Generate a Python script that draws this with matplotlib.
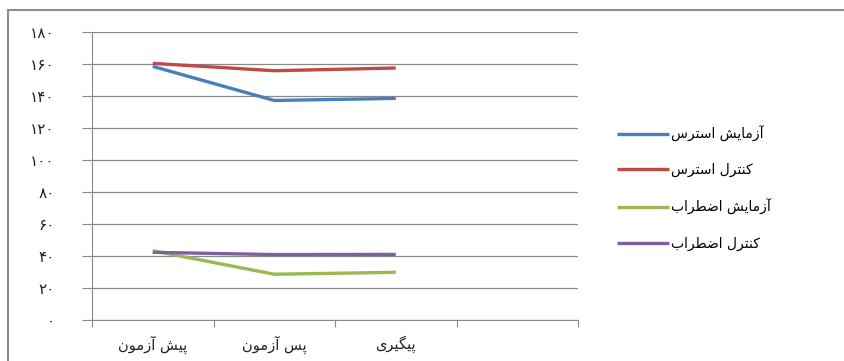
import matplotlib
matplotlib.use("Agg")
import matplotlib.pyplot as plt
from matplotlib.patches import Rectangle

# ---------------- data ----------------
categories = ["پیش آزمون", "پس آزمون", "پیگیری"]
series_names = ["آزمایش استرس", "کنترل استرس", "آزمایش اضطراب", "کنترل اضطراب"]
stress_exp = [158.5, 137.2, 138.5]
stress_ctrl = [160.4, 155.8, 157.5]
anx_exp = [43.3, 28.6, 29.8]
anx_ctrl = [42.3, 40.9, 41.0]
y_ticks = [0, 20, 40, 60, 80, 100, 120, 140, 160, 180]
colors = ["#4A7EBB", "#BE4B48", "#98B954", "#7D60A0"]

# ---------------- simple Persian shaping (presentation forms, visual order) ----------------
# (isolated, final, initial, medial); right-joining letters have only two forms
FORMS = {
    "\u0627": ("\uFE8D", "\uFE8E"),
    "\u0622": ("\uFE81", "\uFE82"),
    "\u0631": ("\uFEAD", "\uFEAE"),
    "\u0632": ("\uFEAF", "\uFEB0"),
    "\u0648": ("\uFEED", "\uFEEE"),
    "\u0628": ("\uFE8F", "\uFE90", "\uFE91", "\uFE92"),
    "\u062A": ("\uFE95", "\uFE96", "\uFE97", "\uFE98"),
    "\u0633": ("\uFEB1", "\uFEB2", "\uFEB3", "\uFEB4"),
    "\u0634": ("\uFEB5", "\uFEB6", "\uFEB7", "\uFEB8"),
    "\u0636": ("\uFEBD", "\uFEBE", "\uFEBF", "\uFEC0"),
    "\u0637": ("\uFEC1", "\uFEC2", "\uFEC3", "\uFEC4"),
    "\u0644": ("\uFEDD", "\uFEDE", "\uFEDF", "\uFEE0"),
    "\u0645": ("\uFEE1", "\uFEE2", "\uFEE3", "\uFEE4"),
    "\u0646": ("\uFEE5", "\uFEE6", "\uFEE7", "\uFEE8"),
    "\u067E": ("\uFB56", "\uFB57", "\uFB58", "\uFB59"),
    "\u06A9": ("\uFB8E", "\uFB8F", "\uFB90", "\uFB91"),
    "\u06AF": ("\uFB92", "\uFB93", "\uFB94", "\uFB95"),
    "\u06CC": ("\uFBFC", "\uFBFD", "\uFBFE", "\uFBFF"),
}


def shape(text):
    out = []
    n = len(text)
    for i, ch in enumerate(text):
        if ch not in FORMS:
            out.append(ch)
            continue
        prev = text[i - 1] if i > 0 else None
        nxt = text[i + 1] if i < n - 1 else None
        jp = prev is not None and prev in FORMS and len(FORMS[prev]) == 4
        jn = nxt is not None and nxt in FORMS and len(FORMS[ch]) == 4
        f = FORMS[ch]
        if jp and jn:
            out.append(f[3])
        elif jp:
            out.append(f[1])
        elif jn:
            out.append(f[2])
        else:
            out.append(f[0])
    return "".join(reversed(out))


def fa_digits(v):
    return "".join(chr(0x06F0 + int(c)) for c in str(v))


plt.rcParams["font.family"] = ["DejaVu Sans"]

fig = plt.figure(figsize=(8.44, 3.61), dpi=100)
W, H = 844, 361
ax = fig.add_axes([92 / W, 1 - 320 / H, (578 - 92) / W, (320 - 32) / H])

xs = [0.5, 1.5, 2.5]
all_series = [stress_exp, stress_ctrl, anx_exp, anx_ctrl]
for vals, name, c in zip(all_series, series_names, colors):
    ax.plot(xs, vals, color=c, lw=2.4, label=shape(name), solid_capstyle="butt")

ax.set_xlim(0, 4)
ax.set_ylim(0, 180)
ax.set_yticks(y_ticks)
ax.set_yticklabels([fa_digits(v) for v in y_ticks], fontsize=11, color="#222222")
ax.yaxis.grid(True, color="#8a8a8a", lw=0.9)
ax.set_axisbelow(True)

ax.set_xticks([0, 1, 2, 3, 4])
ax.set_xticklabels([])
ax.set_xticks(xs, minor=True)
ax.set_xticklabels([shape(c) for c in categories], minor=True, fontsize=10.5, color="#222222")
ax.tick_params(axis="x", which="minor", length=0, pad=11)
ax.tick_params(axis="x", which="major", length=5, color="#8a8a8a")
ax.tick_params(axis="y", length=7, color="#8a8a8a", pad=20)

for s in ["top", "right"]:
    ax.spines[s].set_visible(False)
ax.spines["left"].set_color("#8a8a8a")
ax.spines["bottom"].set_color("#8a8a8a")

leg = fig.legend(loc="upper left", bbox_to_anchor=(604 / W, 1 - 113 / H), frameon=False,
                 fontsize=10, handlelength=3.8, handletextpad=0.15, labelspacing=1.55)

fig.patches.append(Rectangle((8 / W, -0.05), 1.1, 1.05 - 10 / H,
                             transform=fig.transFigure, fill=False, edgecolor="#8c8c8c", lw=1.5))

fig.savefig("out.png", dpi=100)
